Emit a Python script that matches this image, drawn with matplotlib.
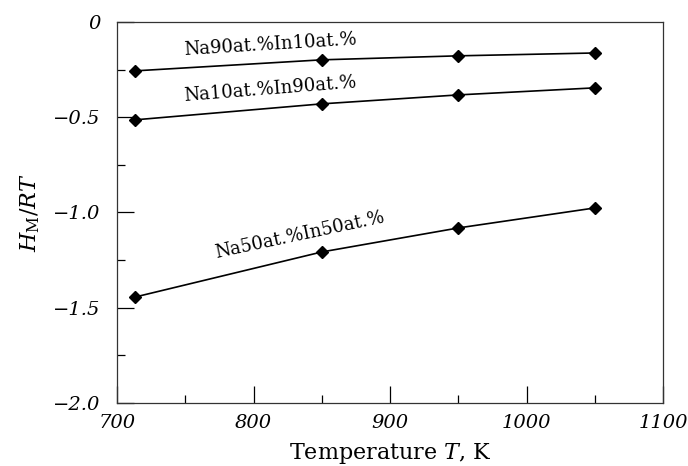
import numpy as np
import matplotlib
matplotlib.use('Agg')
import matplotlib.pyplot as plt
from matplotlib.ticker import MultipleLocator

plt.rcParams['font.family'] = 'DejaVu Serif'
plt.rcParams['mathtext.fontset'] = 'dejavuserif'

# data
temps = [713, 850, 950, 1050]
na90_in10 = [-0.257, -0.199, -0.178, -0.163]
na10_in90 = [-0.514, -0.430, -0.383, -0.346]
na50_in50 = [-1.444, -1.207, -1.081, -0.976]

labels = ['Na90at.%In10at.%', 'Na10at.%In90at.%', 'Na50at.%In50at.%']

fig = plt.figure(figsize=(6.88, 4.66), dpi=100)
ax = fig.add_axes([0.170, 0.135, 0.794, 0.818])

for series in (na90_in10, na10_in90, na50_in50):
    ax.plot(temps, series, color='black', lw=1.2, marker='D', ms=6.5)

ax.set_xlim(700, 1100)
ax.set_ylim(-2.0, 0)
ax.xaxis.set_major_locator(MultipleLocator(100))
ax.xaxis.set_minor_locator(MultipleLocator(50))
ax.yaxis.set_major_locator(MultipleLocator(0.5))
ax.yaxis.set_minor_locator(MultipleLocator(0.25))
ax.yaxis.set_major_formatter(plt.FuncFormatter(
    lambda v, p: '0' if v == 0 else ('%.1f' % v).replace('-', '\u2212')))

ax.tick_params(which='major', direction='in', length=12, width=0.9,
               labelsize=14, pad=8)
ax.tick_params(axis='y', which='major', pad=12)
ax.tick_params(which='minor', direction='in', length=6, width=0.9)
for lab in ax.get_xticklabels() + ax.get_yticklabels():
    lab.set_fontstyle('italic')
for sp in ax.spines.values():
    sp.set_linewidth(0.9)
    sp.set_color('#333333')

ax.set_xlabel('Temperature $T$, K', fontsize=16, labelpad=6)
ax.set_ylabel(r'$H_{\rm M}/RT$', fontsize=16, labelpad=8)

ax.text(812, -0.12, labels[0], fontsize=13, rotation=3.5, ha='center', va='center')
ax.text(812, -0.355, labels[1], fontsize=13, rotation=4.5, ha='center', va='center')
ax.text(834, -1.12, labels[2], fontsize=13, rotation=12, ha='center', va='center')

fig.savefig('out.png', dpi=100)
